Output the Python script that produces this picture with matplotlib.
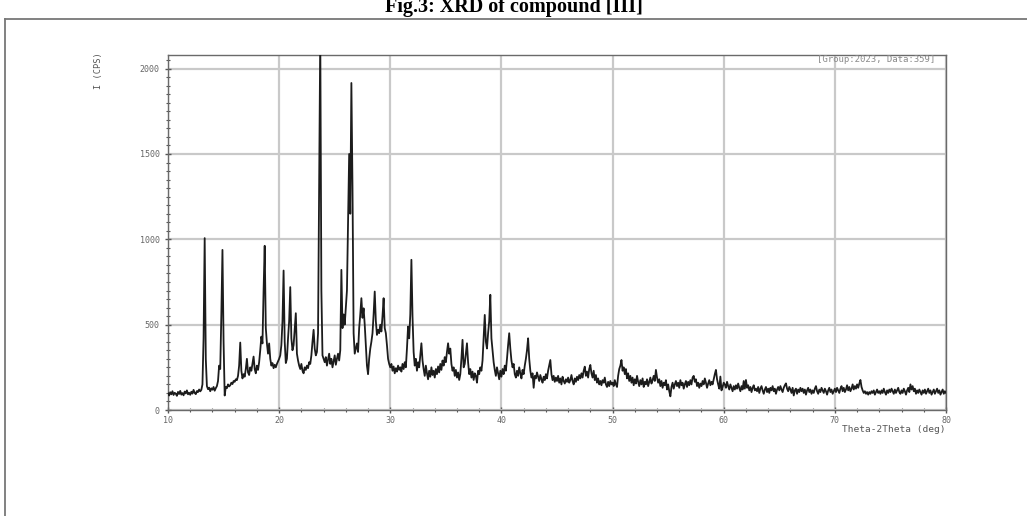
import numpy as np
import matplotlib
matplotlib.use("Agg")
import matplotlib.pyplot as plt
from matplotlib.lines import Line2D
from matplotlib.ticker import MultipleLocator

# ---- data ----
two_theta_start, two_theta_stop, two_theta_step = 10.0, 80.0, 0.1
intensity = [
    98, 85, 104, 92, 110, 88, 101, 95, 83, 106,            # 10
    94, 112, 90, 99, 86, 108, 97, 115, 92, 101,            # 11
    89, 107, 96, 118, 100, 93, 111, 105, 120, 109,         # 12
    118, 150, 420, 1007, 300, 140, 122, 131, 110, 127,     # 13
    119, 135, 113, 128, 140, 170, 260, 240, 560, 938,      # 14
    400, 85, 135, 128, 150, 138, 145, 160, 152, 170,       # 15
    165, 180, 175, 200, 260, 395, 230, 185, 210, 195,      # 16
    240, 300, 220, 205, 250, 230, 270, 313, 240, 215,      # 17
    260, 235, 280, 350, 430, 390, 700, 962, 480, 390,      # 18
    330, 390, 300, 260, 275, 245, 265, 250, 270, 285,      # 19
    300, 320, 380, 520, 817, 400, 275, 300, 420, 520,      # 20
    720, 420, 350, 380, 470, 567, 330, 290, 260, 240,      # 21
    270, 230, 215, 250, 235, 260, 245, 280, 270, 320,      # 22
    400, 470, 360, 320, 340, 450, 1300, 2200, 700, 320,    # 23
    300, 280, 310, 260, 295, 330, 270, 300, 250, 285,      # 24
    320, 265, 300, 330, 290, 350, 821, 480, 560, 500,      # 25
    600, 700, 1100, 1500, 1150, 1916, 1300, 450, 330, 360, # 26
    390, 340, 480, 560, 655, 540, 596, 500, 380, 260,      # 27
    210, 300, 360, 400, 450, 560, 694, 520, 440, 470,      # 28
    450, 500, 460, 550, 655, 480, 450, 380, 300, 270,      # 29
    250, 270, 230, 255, 215, 245, 225, 260, 235, 250,      # 30
    225, 270, 240, 280, 250, 360, 489, 420, 560, 880,      # 31
    548, 340, 260, 300, 230, 280, 250, 320, 391, 290,      # 32
    240, 200, 260, 215, 180, 230, 195, 250, 205, 230,      # 33
    190, 240, 210, 255, 220, 270, 235, 290, 260, 310,      # 34
    280, 340, 391, 330, 360, 270, 230, 250, 200, 235,      # 35
    190, 220, 176, 210, 300, 411, 250, 270, 330, 391,      # 36
    280, 210, 240, 190, 225, 176, 215, 200, 160, 230,      # 37
    210, 250, 230, 290, 420, 557, 400, 360, 450, 520,      # 38
    675, 420, 352, 280, 235, 200, 250, 215, 180, 230,      # 39
    195, 240, 210, 260, 230, 300, 380, 450, 360, 290,      # 40
    250, 270, 210, 190, 230, 200, 250, 215, 185, 235,      # 41
    210, 260, 300, 350, 420, 300, 230, 190, 215, 130,      # 42
    200, 185, 220, 195, 170, 205, 180, 160, 195, 175,      # 43
    210, 185, 230, 260, 293, 210, 175, 200, 165, 190,      # 44
    170, 200, 160, 185, 150, 195, 170, 155, 180, 165,      # 45
    190, 160, 175, 205, 170, 150, 185, 165, 195, 175,      # 46
    205, 185, 215, 190, 230, 254, 200, 225, 190, 240,      # 47
    264, 215, 190, 230, 175, 205, 160, 185, 150, 170,      # 48
    145, 175, 160, 190, 150, 135, 165, 140, 170, 150,      # 49
    160, 140, 175, 150, 135, 200, 240, 260, 293, 230,      # 50
    250, 210, 240, 185, 215, 170, 200, 160, 190, 145,      # 51
    180, 155, 200, 165, 140, 175, 150, 185, 135, 165,      # 52
    150, 180, 140, 165, 190, 155, 175, 200, 170, 235,      # 53
    190, 160, 180, 140, 170, 130, 160, 145, 175, 120,      # 54
    150, 110, 80, 135, 160, 125, 150, 170, 140, 160,       # 55
    130, 175, 145, 160, 125, 150, 170, 135, 165, 145,      # 56
    175, 150, 190, 200, 165, 180, 140, 160, 130, 155,      # 57
    140, 170, 150, 185, 160, 130, 155, 175, 145, 165,      # 58
    150, 180, 210, 235, 180, 150, 125, 196, 115, 135,      # 59
    160, 150, 130, 165, 140, 120, 150, 130, 110, 140,      # 60
    120, 145, 125, 155, 130, 110, 140, 120, 170, 125,      # 61
    176, 130, 145, 115, 135, 105, 130, 145, 115, 125,      # 62
    110, 135, 100, 125, 140, 115, 95, 120, 135, 105,       # 63
    125, 100, 130, 115, 140, 110, 125, 95, 120, 135,       # 64
    115, 140, 120, 105, 130, 145, 156, 125, 110, 135,      # 65
    120, 100, 130, 85, 115, 125, 95, 120, 105, 130,        # 66
    110, 125, 100, 120, 90, 115, 130, 105, 120, 95,        # 67
    115, 100, 125, 140, 110, 95, 120, 105, 130, 115,       # 68
    100, 125, 110, 90, 115, 130, 105, 120, 95, 110,        # 69
    125, 105, 130, 115, 100, 125, 140, 110, 130, 105,      # 70
    120, 145, 115, 135, 110, 125, 150, 120, 140, 125,      # 71
    150, 130, 155, 176, 135, 115, 100, 110, 95, 105,       # 72
    90, 105, 95, 110, 100, 115, 90, 105, 120, 100,         # 73
    110, 95, 115, 100, 125, 105, 90, 115, 100, 120,        # 74
    105, 125, 110, 95, 120, 100, 115, 130, 105, 95,        # 75
    115, 100, 125, 110, 90, 115, 130, 105, 150, 120,       # 76
    140, 110, 125, 95, 115, 100, 120, 105, 90, 115,        # 77
    100, 120, 95, 110, 125, 100, 115, 90, 105, 120,        # 78
    95, 110, 125, 100, 115, 90, 105, 120, 95, 110,         # 79
    100,                                                   # 80
]
two_theta = np.round(np.arange(len(intensity)) * two_theta_step + two_theta_start, 2)

x_ticks = [10, 20, 30, 40, 50, 60, 70, 80]
y_ticks = [0, 500, 1000, 1500, 2000]
title_text = "Fig.3: XRD of compound [III]"
x_label = "Theta-2Theta (deg)"
y_label = "I (CPS)"
info_text = "[Group:2023, Data:359]"

# ---- figure ----
W, H = 1027, 516
fig = plt.figure(figsize=(W / 100, H / 100), dpi=100)
fig.patch.set_facecolor("white")

ax = fig.add_axes([168 / W, (H - 410) / H, 778 / W, 355 / H])
ax.plot(two_theta, intensity, color="#1c1c1c", lw=1.3, zorder=3)
ax.set_xlim(10, 80)
ax.set_ylim(0, 2080)

ax.set_xticks(x_ticks)
ax.set_yticks(y_ticks)
ax.xaxis.set_minor_locator(MultipleLocator(2))
ax.yaxis.set_minor_locator(MultipleLocator(50))
ax.grid(True, which="major", color="#c9c9c9", lw=1.6, zorder=0)
for s in ax.spines.values():
    s.set_color("#6a6a6a")
    s.set_linewidth(1.0)
ax.tick_params(which="major", direction="inout", length=4, width=1.0, color="#555555",
               labelsize=6, labelcolor="#666666", pad=2)
ax.tick_params(which="minor", direction="inout", length=2.5, width=0.8, color="#555555")
ax.tick_params(axis="y", pad=4)
for lab in ax.get_xticklabels() + ax.get_yticklabels():
    lab.set_fontfamily("DejaVu Sans Mono")

ax.text(0.986, 0.986, info_text, transform=ax.transAxes, ha="right", va="center",
        fontsize=6.5, color="#8a8a8a", family="DejaVu Sans Mono")

fig.text(946 / W, 1 - 430 / H, x_label, ha="right", va="center",
         fontsize=6.8, color="#555555", family="DejaVu Sans Mono")
fig.text(98 / W, 1 - 71 / H, y_label, ha="center", va="center", rotation=90,
         fontsize=6.2, color="#555555", family="DejaVu Sans Mono")

# title (partly cut off at top) and outer frame
fig.text(0.5, 1 - 12 / H, title_text, ha="center", va="baseline",
         fontsize=14.5, fontweight="bold", family="Liberation Serif", color="black")
fig.add_artist(Line2D([5 / W, 5 / W], [0, 1 - 19 / H], color="#777777", lw=1.3))
fig.add_artist(Line2D([5 / W, 1.0], [1 - 19 / H, 1 - 19 / H], color="#777777", lw=1.3))

fig.savefig("out.png", dpi=100, facecolor="white")
